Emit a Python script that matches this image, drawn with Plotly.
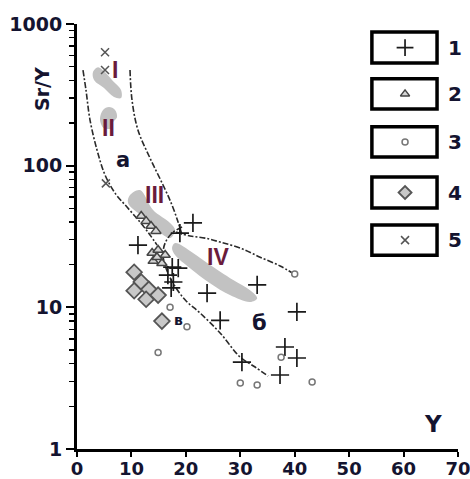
import math
import plotly.graph_objects as go

# ---------------- data ----------------
# series 1 (+)
s1_x = [21.3, 18.9, 11.2, 17.5, 18.6, 16.7, 17.7, 17.3, 23.9, 26.3, 30.3, 33.1, 40.4, 38.2, 40.4, 37.3]
s1_y = [39.4, 33.4, 27.5, 19.2, 18.9, 16.9, 15.1, 13.7, 12.6, 8.1, 4.1, 14.4, 9.3, 5.25, 4.39, 3.33]
# series 2 (triangles)
s2_x = [11.8, 12.7, 13.6, 14.5, 13.8, 14.9, 16.2, 14.0, 15.6, 14.7]
s2_y = [44.1, 40.6, 37.5, 34.5, 24.2, 25.4, 23.4, 21.2, 20.5, 22.6]
# series 3 (small circles)
s3_x = [17.1, 20.2, 14.9, 40.0, 30.0, 33.1, 43.2, 37.5]
s3_y = [10.0, 7.3, 4.8, 17.2, 2.92, 2.83, 2.97, 4.45]
# series 4 (diamonds)
s4_x = [10.5, 11.8, 10.5, 13.2, 12.7, 14.9, 15.6]
s4_y = [17.7, 15.1, 13.1, 13.4, 11.4, 12.2, 8.0]
# series 5 (x)
s5_x = [5.15, 5.15, 5.3]
s5_y = [631, 473, 75]

# gray fields I-IV
f1_x = [2.94, 3.86, 4.96, 6.43, 8.09, 8.09, 6.8, 4.96, 3.13]
f1_y = [458, 496, 465, 402, 342, 300, 305, 353, 402]
f2_x = [4.23, 4.78, 5.88, 6.99, 7.35, 6.62, 6.43, 4.96, 4.41]
f2_y = [217, 247, 259, 247, 220, 203, 184, 184, 197]
f3_x = [9.74, 11.58, 13.97, 17.10, 18.01, 17.10, 14.71, 12.13, 9.38]
f3_y = [62.0, 67.3, 48.6, 39.4, 35.1, 30.8, 35.1, 43.4, 54.5]
f4_x = [18.01, 21.32, 24.0, 28.7, 31.8, 33.1, 31.8, 28.1, 24.45, 20.77, 18.01, 17.46]
f4_y = [28.4, 24.2, 20.5, 15.6, 13.2, 11.6, 10.9, 12.2, 14.8, 18.9, 23.4, 26.2]

# dashed boundaries
l1_x = [1.1, 1.65, 2.39, 3.68, 5.15, 6.99, 9.19, 11.58, 13.42, 14.71]
l1_y = [473, 342, 210, 129, 86, 64, 51, 40, 32.4, 27.5]
l2_x = [9.74, 10.11, 11.21, 13.42, 15.81, 17.46, 18.57, 19.30]
l2_y = [473, 290, 178, 113, 73, 52.7, 40.0, 32.4]
l3_x = [18.2, 20.77, 23.53, 26.29, 29.96, 33.64, 37.32, 39.52]
l3_y = [34.0, 31.9, 30.8, 28.9, 26.2, 22.6, 19.6, 17.5]
l4_x = [19.30, 17.46, 16.18, 15.81, 16.36, 17.65, 19.85, 22.61, 26.29, 29.96, 32.72, 35.11]
l4_y = [36.9, 33.4, 28.4, 23.4, 18.9, 14.8, 11.3, 9.12, 6.59, 4.46, 3.79, 3.27]

field_labels = ["I", "II", "III", "IV"]
field_lx = [7.0, 5.7, 14.3, 25.9]
field_ly = [473, 184, 62, 22.6]
area_labels = ["а", "б", "в"]
area_lx = [8.5, 33.6, 18.6]
area_ly = [109, 7.75, 8.1]

x_ticks = [0, 10, 20, 30, 40, 50, 60, 70]
y_ticks = [1, 10, 100, 1000]
y_tick_text = ["1", "10", "100", "1000"]
legend_labels = ["1", "2", "3", "4", "5"]

TXT = "#141430"
FONT = "DejaVu Sans, Liberation Sans, Arial"
fig = go.Figure()

for fx, fy in [(f1_x, f1_y), (f2_x, f2_y), (f3_x, f3_y), (f4_x, f4_y)]:
    fig.add_trace(go.Scatter(x=fx + fx[:1], y=fy + fy[:1], mode="lines", fill="toself",
                             fillcolor="#c2c2c2", line=dict(width=0, color="#c2c2c2"),
                             line_shape="spline", hoverinfo="skip"))

for lx, ly in [(l1_x, l1_y), (l2_x, l2_y), (l3_x, l3_y), (l4_x, l4_y)]:
    fig.add_trace(go.Scatter(x=lx, y=ly, mode="lines", line_shape="spline",
                             line=dict(color="#2a2a2a", width=1.6, dash="6px,2px,2px,2px")))

styles = [
    dict(symbol="cross-thin", size=13, color="#1a1a1a", line=dict(width=1.7, color="#1a1a1a")),
    dict(symbol="triangle-up", size=9, color="#d5d5d5", line=dict(width=1.5, color="#444444")),
    dict(symbol="circle", size=6, color="white", line=dict(width=1.5, color="#777777")),
    dict(symbol="diamond", size=12, color="#c8c8c8", line=dict(width=1.8, color="#555555")),
    dict(symbol="x-thin", size=8, color="#555555", line=dict(width=1.5, color="#555555")),
]
series = [(s1_x, s1_y), (s2_x, s2_y), (s3_x, s3_y), (s4_x, s4_y), (s5_x, s5_y)]
for (sx, sy), st in zip(series, styles):
    fig.add_trace(go.Scatter(x=sx, y=sy, mode="markers", marker=st))

# legend boxes (paper coordinates)
box_x0, box_x1 = 0.774, 0.945
box_y = [(0.908, 0.981), (0.800, 0.871), (0.687, 0.758), (0.567, 0.640), (0.456, 0.527)]
for (y0, y1) in box_y:
    fig.add_shape(type="rect", xref="paper", yref="paper", x0=box_x0, x1=box_x1, y0=y0, y1=y1,
                  line=dict(color="black", width=3.5), fillcolor="rgba(0,0,0,0)", layer="above")
leg_sizes = [12, 8, 6, 10, 8]
for i, st in enumerate(styles):
    m = dict(st)
    m["size"] = leg_sizes[i]
    yc = (box_y[i][0] + box_y[i][1]) / 2
    fig.add_trace(go.Scatter(x=[0.861], y=[yc], mode="markers",
                             marker=m, xaxis="x2", yaxis="y2"))
    fig.add_annotation(xref="paper", yref="paper", x=0.993, y=yc, xanchor="center", yanchor="middle",
                       text="<b>%s</b>" % legend_labels[i], showarrow=False,
                       font=dict(size=20, color=TXT, family=FONT))

for t, x, y in zip(field_labels, field_lx, field_ly):
    fig.add_annotation(x=x, y=math.log10(y), text="<b>%s</b>" % t, showarrow=False,
                       xanchor="center", yanchor="middle",
                       font=dict(size=23, color="#6a1b3c", family="Liberation Sans, Arial"))
for t, x, y in zip(area_labels, area_lx, area_ly):
    fig.add_annotation(x=x, y=math.log10(y), text="<b>%s</b>" % t, showarrow=False,
                       xanchor="center", yanchor="middle",
                       font=dict(size=21 if t != "в" else 14, color=TXT, family=FONT))

fig.add_annotation(xref="paper", yref="paper", x=-0.092, y=0.847, text="<b>Sr/Y</b>", textangle=-90,
                   xanchor="center", yanchor="middle",
                   showarrow=False, font=dict(size=19, color=TXT, family=FONT))
fig.add_annotation(xref="paper", yref="paper", x=0.934, y=0.059, text="<b>Y</b>",
                   xanchor="center", yanchor="middle",
                   showarrow=False, font=dict(size=23, color=TXT, family=FONT))

minor_vals = [m * d for d in [1, 10, 100] for m in range(2, 10)]
fig.update_layout(
    width=470, height=479, margin=dict(l=77, r=12, t=24, b=30),
    paper_bgcolor="white", plot_bgcolor="white", showlegend=False, hovermode=False,
    font=dict(family=FONT, color=TXT),
    xaxis=dict(range=[0, 70], tickvals=x_ticks, showgrid=False, zeroline=False, automargin=False,
               showline=True, linecolor="black", linewidth=3, ticks="outside", ticklen=5,
               ticklabeloverflow="allow", ticklabelstandoff=-4,
               tickwidth=2, tickcolor="black", tickfont=dict(size=18, color=TXT, weight="bold")),
    yaxis=dict(type="log", range=[0, 3], tickvals=y_ticks, ticktext=y_tick_text, showgrid=False,
               zeroline=False, showline=True, linecolor="black", linewidth=3, ticks="outside",
               ticklen=8, tickwidth=2, tickcolor="black", automargin=False,
               ticklabeloverflow="allow",
               tickfont=dict(size=19, color=TXT, weight="bold"),
               minor=dict(tickvals=minor_vals, ticks="outside", ticklen=5, tickwidth=1.5,
                          tickcolor="black", showgrid=False)),
    xaxis2=dict(range=[0, 1], overlaying="x", visible=False),
    yaxis2=dict(range=[0, 1], overlaying="y", visible=False),
)

fig.write_html("out.html", config={"displayModeBar": False, "staticPlot": True},
               post_script="document.body.style.margin='0';document.body.style.overflow='hidden';")
